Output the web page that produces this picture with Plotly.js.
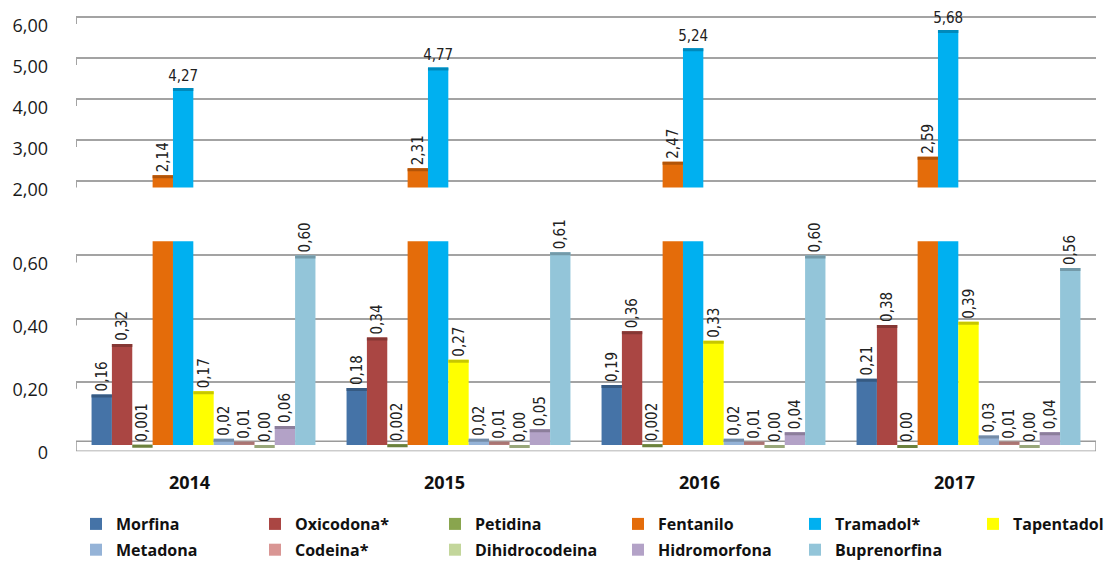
<!DOCTYPE html>
<html><head><meta charset="utf-8">
<script src="https://cdn.plot.ly/plotly-3.0.1.min.js"></script>
<style>html,body{margin:0;padding:0;background:#fff}#chart{width:1117px;height:564px}</style>
</head><body><div id="chart"></div>
<script>
// ---- data ----
const years = ['2014', '2015', '2016', '2017'];
const morfina = [0.16, 0.18, 0.19, 0.21];
const oxicodona = [0.32, 0.34, 0.36, 0.38];
const petidina = [0.001, 0.002, 0.002, 0.00];
const fentanilo = [2.14, 2.31, 2.47, 2.59];
const tramadol = [4.27, 4.77, 5.24, 5.68];
const tapentadol = [0.17, 0.27, 0.33, 0.39];
const metadona = [0.02, 0.02, 0.02, 0.03];
const codeina = [0.01, 0.01, 0.01, 0.01];
const dihidrocodeina = [0.00, 0.00, 0.00, 0.00];
const hidromorfona = [0.06, 0.05, 0.04, 0.04];
const buprenorfina = [0.60, 0.61, 0.60, 0.56];
const seriesNames = ['Morfina', 'Oxicodona*', 'Petidina', 'Fentanilo', 'Tramadol*', 'Tapentadol',
  'Metadona', 'Codeina*', 'Dihidrocodeina', 'Hidromorfona', 'Buprenorfina'];
const topTickVals = [2, 3, 4, 5, 6];
const topTickText = ['2,00', '3,00', '4,00', '5,00', '6,00'];
const lowTickVals = [0, 0.2, 0.4, 0.6];
const lowTickText = ['0', '0,20', '0,40', '0,60'];

// ---- styles ----
const seriesValues = [morfina, oxicodona, petidina, fentanilo, tramadol, tapentadol,
  metadona, codeina, dihidrocodeina, hidromorfona, buprenorfina];
const colors = ['#4573A7', '#AA4643', '#89A54E', '#E46C0A', '#00B0F0', '#FFFF00',
  '#95B3D7', '#D99694', '#C3D69B', '#B3A2C7', '#93C5D9'];
const topSeries = {'Fentanilo': -90, 'Tramadol*': 0};
const legendColumnPx = [76, 255, 435, 618, 795, 973];

function darken(hex, f) {
  const n = parseInt(hex.slice(1), 16);
  const r = Math.round(((n >> 16) & 255) * f), g = Math.round(((n >> 8) & 255) * f), b = Math.round((n & 255) * f);
  return 'rgb(' + r + ',' + g + ',' + b + ')';
}
function fmt(v) {
  const d = (v > 0 && v < 0.005) ? 3 : 2;
  return v.toFixed(d).replace('.', ',');
}

const W = 1117, H = 564;
const xDom = [76 / W, 1096 / W];
const lowRange = [-0.02, 0.645], lowDom = [1 - 451.3 / H, 1 - 241.2 / H];
const topRange = [1.84, 6.08], topDom = [1 - 187.6 / H, 1 - 13.7 / H];
const capPx = 3, wallPx = 7;
const lowPerPx = (lowRange[1] - lowRange[0]) / ((lowDom[1] - lowDom[0]) * H);
const topPerPx = (topRange[1] - topRange[0]) / ((topDom[1] - topDom[0]) * H);

const labelFont = {family: "'Liberation Sans Narrow', 'DejaVu Sans Condensed', 'Liberation Sans', sans-serif", size: 15, color: '#222'};
const traces = [];
seriesNames.forEach((name, i) => {
  const vals = seriesValues[i];
  const isTop = name in topSeries;
  const col = i % 6;
  const legendId = col === 0 ? 'legend' : 'legend' + (col + 1);
  // lower panel
  traces.push({
    type: 'bar', name: name, x: years, y: vals, xaxis: 'x', yaxis: 'y',
    marker: {color: colors[i]}, offsetgroup: 'g' + i, legendgroup: name, legend: legendId,
    text: isTop ? null : vals.map(fmt), textposition: 'outside', textangle: -90,
    textfont: labelFont, constraintext: 'none', cliponaxis: false, hoverinfo: 'x+y+name'
  });
  traces.push({
    type: 'bar', name: name, x: years, y: vals.map(() => -capPx * lowPerPx), base: vals, xaxis: 'x', yaxis: 'y',
    marker: {color: darken(colors[i], 0.78)}, offsetgroup: 'g' + i,
    showlegend: false, hoverinfo: 'skip'
  });
  // upper panel
  traces.push({
    type: 'bar', name: name, x: years, y: vals, xaxis: 'x2', yaxis: 'y2',
    marker: {color: colors[i]}, offsetgroup: 'g' + i, showlegend: false,
    text: isTop ? vals.map(fmt) : null, textposition: 'outside',
    textangle: isTop ? topSeries[name] : 0,
    textfont: labelFont, constraintext: 'none', cliponaxis: false, hoverinfo: 'x+y+name'
  });
  traces.push({
    type: 'bar', name: name, x: years, y: vals.map(() => -capPx * topPerPx), base: vals, xaxis: 'x2', yaxis: 'y2',
    marker: {color: darken(colors[i], 0.78)}, offsetgroup: 'g' + i,
    showlegend: false, hoverinfo: 'skip'
  });
});

const gridColor = '#a3a3a3';
const tickFont = {family: "'Open Sans', 'Liberation Sans', sans-serif", size: 18, color: '#1a1a1a'};
const legendFont = {family: "'Open Sans', 'Liberation Sans', sans-serif", size: 16, color: '#111', weight: 700};

// back-wall edge marks at the left end of each gridline
const shapes = [{
  type: 'rect', xref: 'x', yref: 'y', x0: -0.5, x1: 3.5, y0: -0.02, y1: 0.012,
  fillcolor: '#ffffff', line: {color: '#9a9a9a', width: 1.5}, layer: 'between'
}];
lowTickVals.slice(1).forEach(v => shapes.push({
  type: 'line', xref: 'x', yref: 'y', x0: -0.5, x1: -0.5, y0: v, y1: v - wallPx * lowPerPx,
  line: {color: gridColor, width: 2}, layer: 'below'
}));
topTickVals.forEach(v => shapes.push({
  type: 'line', xref: 'x2', yref: 'y2', x0: -0.5, x1: -0.5, y0: v, y1: v - wallPx * topPerPx,
  line: {color: gridColor, width: 2}, layer: 'below'
}));

const layout = {
  width: W, height: H,
  margin: {l: 0, r: 0, t: 0, b: 0, autoexpand: false},
  paper_bgcolor: '#fff', plot_bgcolor: 'rgba(0,0,0,0)',
  barmode: 'group', bargap: 0.122, bargroupgap: 0,
  showlegend: true,
  xaxis: {
    domain: xDom, anchor: 'y', type: 'category', range: [-0.5, 3.5],
    showgrid: false, showline: false, zeroline: false, ticks: '',
    tickfont: {family: "'Open Sans', 'Liberation Sans', sans-serif", size: 18, color: '#111', weight: 700},
    ticklabelshift: -14, ticklabelstandoff: 19
  },
  xaxis2: {
    domain: xDom, anchor: 'y2', type: 'category', range: [-0.5, 3.5], matches: 'x',
    showgrid: false, showline: false, zeroline: false, showticklabels: false, ticks: ''
  },
  yaxis: {
    domain: lowDom, anchor: 'x', range: lowRange, tickvals: lowTickVals, ticktext: lowTickText,
    showgrid: true, gridcolor: gridColor, gridwidth: 2, zeroline: false, showline: false, ticks: '',
    tickfont: tickFont, ticklabelstandoff: 27, ticklabelshift: 8, ticklabeloverflow: 'allow'
  },
  yaxis2: {
    domain: topDom, anchor: 'x2', range: topRange, tickvals: topTickVals, ticktext: topTickText,
    showgrid: true, gridcolor: gridColor, gridwidth: 2, zeroline: false, showline: false, ticks: '',
    tickfont: tickFont, ticklabelstandoff: 27, ticklabelshift: 9, ticklabeloverflow: 'allow'
  },
  shapes: shapes
};
legendColumnPx.forEach((px, c) => {
  const key = c === 0 ? 'legend' : 'legend' + (c + 1);
  layout[key] = {
    orientation: 'v', x: px / W, y: 1 - 507 / H, xanchor: 'left', yanchor: 'top',
    traceorder: 'grouped', tracegroupgap: 2, itemwidth: 30,
    font: legendFont, bgcolor: 'rgba(0,0,0,0)'
  };
});

Plotly.newPlot('chart', traces, layout, {displayModeBar: false, staticPlot: true});
</script>
</body></html>
